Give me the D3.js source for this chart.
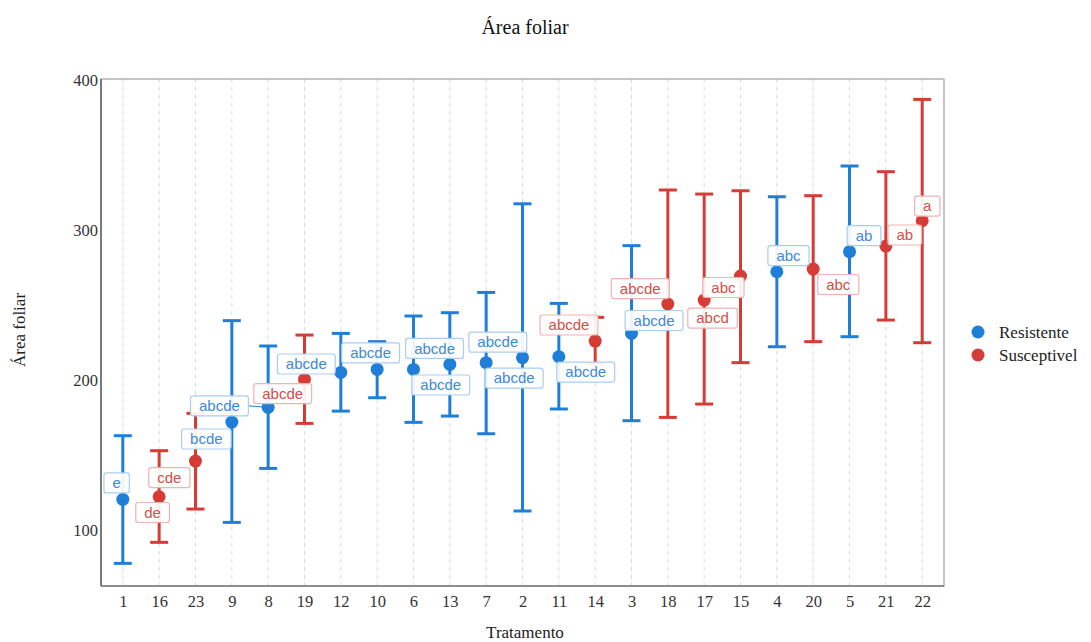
<!DOCTYPE html>
<html>
<head>
<meta charset="utf-8">
<script src="https://cdn.jsdelivr.net/npm/d3@7"></script>
<style>
  body { margin: 0; background: #fff; }
  svg text { font-family: "Liberation Serif", "Times New Roman", serif; }
</style>
</head>
<body>
<svg id="chart" width="1091" height="642"></svg>
<script>
// treatments in plot order
const tratamentos = ["1","16","23","9","8","19","12","10","6","13","7","2","11","14","3","18","17","15","4","20","5","21","22"];
const grupo = ["R","S","S","R","R","S","R","R","R","R","R","R","R","S","R","S","S","S","R","S","R","S","S"];
const media = [120.4,122.2,146,172,181.8,200.4,205.1,207.1,207.1,210.4,211.6,214.9,215.6,226,231.1,250.7,253.3,269.3,272.2,274,285.6,289.3,306.2];
const inferior = [77.8,91.8,114,105.1,141.1,171.1,179.3,188.2,171.8,176,164.2,112.7,180.7,211,172.9,175.1,184,211.6,222.2,225.6,228.9,240,224.9];
const superior = [162.9,152.9,177.8,239.6,222.7,230,231.1,225.6,242.7,244.9,258.4,317.5,251.1,241.8,289.6,326.7,324,326.2,322.2,322.9,342.7,338.9,387.1];
const letras = ["e","de","cde","bcde","abcde","abcde","abcde","abcde","abcde","abcde","abcde","abcde","abcde","abcde","abcde","abcde","abcd","abc","abc","abc","ab","ab","a"];
// label nudges (category units, value units)
const nudgeX = [-0.17,-0.18,-0.72,-0.7,-1.34,-0.6,-0.95,-0.18,0.58,-0.25,0.32,-0.23,0.74,-0.72,0.62,-0.76,0.23,-0.47,0.32,0.69,0.4,0.52,0.14];
const nudgeY = [11,-10.5,-11,-11.3,1,-9.4,5.6,11,14,-13.7,13.7,-13.6,-10.3,10.7,8.6,10.3,-12,-7.6,10.8,-10.3,10.7,7.4,9.8];
const yTicks = [100,200,300,400];
const legendItems = [["R","Resistente"],["S","Susceptivel"]];

const cores = {R: "#1f7fd8", S: "#d63c36"};
const textoCor = {R: "#3d8ad6", S: "#d24f49"};
const bordas = {R: "#a9cdef", S: "#efb3b0"};

const svg = d3.select("#chart");
const m = {left: 101, right: 944, top: 79, bottom: 586};

const x = d3.scalePoint().domain(tratamentos).range([m.left, m.right]).padding(0.6);
const y = d3.scaleLinear().domain([62.7, 400.7]).range([m.bottom, m.top]);
const step = x.step();

// vertical dashed gridlines
svg.append("g").selectAll("line").data(tratamentos).join("line")
  .attr("x1", d => x(d)).attr("x2", d => x(d))
  .attr("y1", m.top).attr("y2", m.bottom)
  .attr("stroke", "#d9d9d9").attr("stroke-width", 1).attr("stroke-dasharray", "4,4");

// panel border
svg.append("rect").attr("x", m.left).attr("y", m.top)
  .attr("width", m.right - m.left).attr("height", m.bottom - m.top)
  .attr("fill", "none").attr("stroke", "#a0a0a0").attr("stroke-width", 1.2);
svg.append("line").attr("x1", m.left).attr("x2", m.left).attr("y1", m.top).attr("y2", m.bottom)
  .attr("stroke", "#7a7a7a").attr("stroke-width", 2);
svg.append("line").attr("x1", m.left).attr("x2", m.right).attr("y1", m.bottom).attr("y2", m.bottom)
  .attr("stroke", "#7a7a7a").attr("stroke-width", 1.5);

// axes
const xAxis = svg.append("g").attr("transform", `translate(0,${m.bottom})`)
  .call(d3.axisBottom(x).tickSize(0).tickPadding(9));
const yAxis = svg.append("g").attr("transform", `translate(${m.left},0)`)
  .call(d3.axisLeft(y).tickValues(yTicks).tickSize(0).tickPadding(3));
[xAxis, yAxis].forEach(a => {
  a.select(".domain").remove();
  a.selectAll("text").attr("font-size", 16.5).attr("fill", "#333")
    .attr("font-family", "Liberation Serif, serif");
});

const rows = tratamentos.map((t, i) => ({t, g: grupo[i], m: media[i], lo: inferior[i], hi: superior[i], lab: letras[i], nx: nudgeX[i], ny: nudgeY[i]}));

// error bars
const eb = svg.append("g").selectAll("g").data(rows).join("g")
  .attr("stroke", d => cores[d.g]).attr("stroke-width", 3);
eb.append("line").attr("x1", d => x(d.t)).attr("x2", d => x(d.t))
  .attr("y1", d => y(d.lo)).attr("y2", d => y(d.hi));
eb.append("line").attr("x1", d => x(d.t) - 9).attr("x2", d => x(d.t) + 9)
  .attr("y1", d => y(d.lo)).attr("y2", d => y(d.lo));
eb.append("line").attr("x1", d => x(d.t) - 9).attr("x2", d => x(d.t) + 9)
  .attr("y1", d => y(d.hi)).attr("y2", d => y(d.hi));

// points
svg.append("g").selectAll("circle").data(rows).join("circle")
  .attr("cx", d => x(d.t)).attr("cy", d => y(d.m)).attr("r", 6.5)
  .attr("fill", d => cores[d.g]);

// repelled labels
const segs = svg.append("g");
const lab = svg.append("g").selectAll("g").data(rows).join("g")
  .attr("transform", d => `translate(${x(d.t) + d.nx * step},${y(d.m + d.ny)})`);
lab.each(function(d) {
  const g = d3.select(this);
  const txt = g.append("text").text(d.lab)
    .attr("text-anchor", "middle").attr("dy", "0.35em")
    .attr("font-size", 15).attr("fill", textoCor[d.g])
    .style("font-family", "Liberation Sans, Arial, sans-serif");
  const w = txt.node().getComputedTextLength() + 17;
  const h = 20;
  // segment to the point when the label sits away from it
  const lx = x(d.t) + d.nx * step, ly = y(d.m + d.ny);
  const px = x(d.t) - lx;
  if (Math.abs(px) > w / 2 + 8) {
    segs.append("line")
      .attr("x1", lx + Math.sign(px) * w / 2).attr("y1", ly)
      .attr("x2", x(d.t)).attr("y2", y(d.m))
      .attr("stroke", cores[d.g]).attr("stroke-width", 1);
  }
  g.insert("rect", "text").attr("x", -w / 2).attr("y", -h / 2)
    .attr("width", w).attr("height", h).attr("rx", 2.5)
    .attr("fill", "#fff").attr("fill-opacity", 0.92)
    .attr("stroke", bordas[d.g]).attr("stroke-width", 1.2);
});

// titles
svg.append("text").attr("x", 525).attr("y", 34).attr("text-anchor", "middle")
  .attr("font-size", 20).attr("fill", "#111").text("Área foliar");
svg.append("text").attr("x", 525).attr("y", 638).attr("text-anchor", "middle")
  .attr("font-size", 17).attr("fill", "#222").text("Tratamento");
svg.append("text").attr("transform", "translate(25,330) rotate(-90)").attr("text-anchor", "middle")
  .attr("font-size", 17).attr("fill", "#222").text("Área foliar");

// legend
const leg = svg.append("g").selectAll("g").data(legendItems).join("g")
  .attr("transform", (d, i) => `translate(978,${332 + i * 23})`);
leg.append("circle").attr("r", 6.5).attr("fill", d => cores[d[0]]);
leg.append("text").attr("x", 21).attr("dy", "0.35em").attr("font-size", 17)
  .attr("fill", "#222").text(d => d[1]);
</script>
</body>
</html>
